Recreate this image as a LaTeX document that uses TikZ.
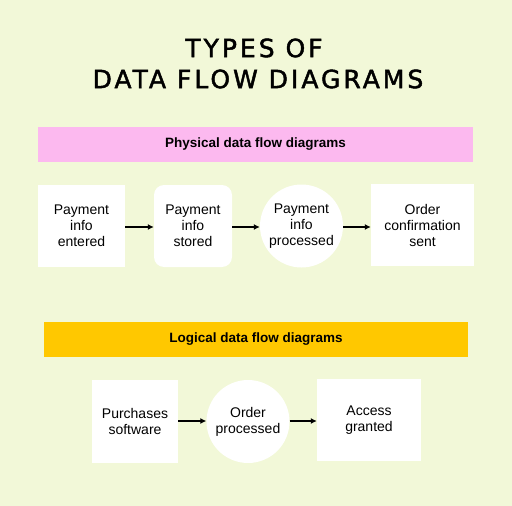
\documentclass[tikz,border=0pt]{standalone}
\usepackage{fontspec}
\setmainfont{Liberation Sans}
\newfontfamily\titlefont[LetterSpace=12,FakeBold=1.8]{DejaVu Sans}
\usetikzlibrary{arrows.meta}
\definecolor{bgcol}{HTML}{F2F8D8}
\definecolor{pinkcol}{HTML}{FCB9EF}
\definecolor{yellowcol}{HTML}{FFC800}
\tikzset{
  bartext/.style={font=\fontsize{13.5}{15}\selectfont\bfseries, text=black},
  boxnode/.style={fill=white, draw=none, align=center, inner sep=0pt,
    font=\fontsize{14}{16}\selectfont},
  roundnode/.style={boxnode, rounded corners=10pt},
  circnode/.style={boxnode, circle},
  flow/.style={line width=1.2pt, -{Latex[length=6pt,width=6pt]}},
  titletext/.style={font=\titlefont\fontsize{25}{30}\selectfont, inner sep=0pt}
}
\begin{document}
\begin{tikzpicture}[x=1pt,y=-1pt]
\fill[bgcol] (0,0) rectangle (512,506);
\useasboundingbox (0,0) rectangle (512,506);

\node[titletext] (t1) at (254,48) {TYPES OF};
\node[titletext] (t2) at (258,79) {DATA FLOW DIAGRAMS};

% physical
\fill[pinkcol] (38,127) rectangle (473,162);
\node[bartext] (pb) at (255.5,144.5) {Physical data flow diagrams};

\node[boxnode, minimum width=87pt, minimum height=82pt] (p1) at (81.5,226) {Payment\\info\\entered};
\node[roundnode, minimum width=78pt, minimum height=82pt] (p2) at (193,226) {Payment\\info\\stored};
\node[circnode, minimum size=83pt] (p3) at (301.5,226) {Payment\\info\\processed};
\node[boxnode, minimum width=103pt, minimum height=82pt] (p4) at (422.5,225) {Order\\confirmation\\sent};

\draw[flow] (p1.east |- 0,227) -- (p2.west |- 0,227);
\draw[flow] (p2.east |- 0,227) -- (p3.west |- 0,227);
\draw[flow] (p3.east |- 0,227) -- (p4.west |- 0,227);

% logical
\fill[yellowcol] (44,322) rectangle (468,357);
\node[bartext] (lb) at (256,339.5) {Logical data flow diagrams};

\node[boxnode, minimum width=86pt, minimum height=83pt] (l1) at (135,421.5) {Purchases\\software};
\node[circnode, minimum size=83pt] (l2) at (248,421.5) {Order\\processed};
\node[boxnode, minimum width=104pt, minimum height=82pt] (l3) at (369,420) {Access\\granted};

\draw[flow] (l1.east |- 0,421) -- (l2.west |- 0,421);
\draw[flow] (l2.east |- 0,421) -- (l3.west |- 0,421);
\end{tikzpicture}
\end{document}
